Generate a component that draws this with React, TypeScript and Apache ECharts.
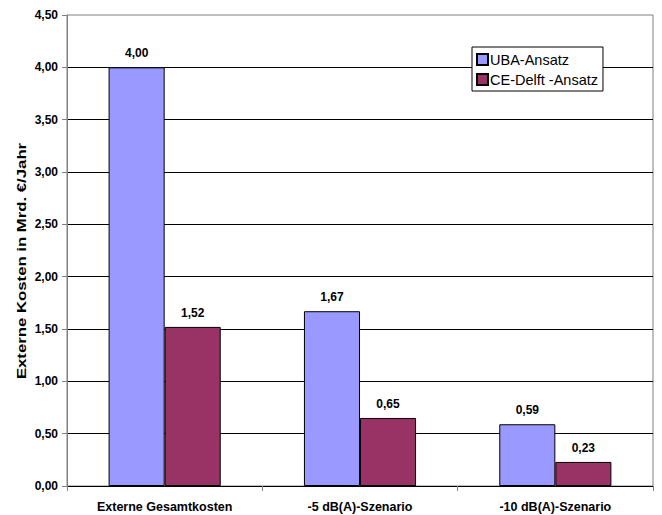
import React, { useEffect, useRef } from "react";
import * as echarts from "echarts";

const categories = ["Externe Gesamtkosten", "-5 dB(A)-Szenario", "-10 dB(A)-Szenario"];
const ubaValues = [4.0, 1.67, 0.59];
const ceValues = [1.52, 0.65, 0.23];
const seriesNames = ["UBA-Ansatz", "CE-Delft -Ansatz"];
const yAxisTitle = "Externe Kosten in Mrd. €/Jahr";

const fmt = (v: number) => v.toFixed(2).replace(".", ",");

export default function App() {
  const ref = useRef<HTMLDivElement>(null);
  useEffect(() => {
    document.body.style.margin = "0";
    const chart = echarts.init(ref.current!, null, { renderer: "svg" });
    const font = "Arial, 'Liberation Sans', sans-serif";
    const labelCfg = {
      show: true,
      position: "top" as const,
      distance: 8,
      fontFamily: font,
      fontSize: 12,
      fontWeight: "bold" as const,
      color: "#000",
      formatter: (p: any) => fmt(p.value),
    };
    chart.setOption({
      animation: false,
      backgroundColor: "#fff",
      grid: {
        left: 67,
        right: 9,
        top: 15,
        bottom: 29,
        show: true,
        borderColor: "#808080",
        borderWidth: 1,
        backgroundColor: "#fff",
      },
      graphic: [
        {
          type: "text",
          x: 22,
          y: 261,
          rotation: Math.PI / 2,
          scaleX: 1.34,
          style: {
            text: yAxisTitle,
            fontFamily: font,
            fontSize: 12.5,
            fontWeight: "bold",
            fill: "#000",
            textAlign: "center",
            textVerticalAlign: "middle",
          },
        },
      ],
      legend: {
        orient: "vertical",
        left: 472,
        top: 47,
        padding: [5, 5, 4, 4],
        itemWidth: 11,
        itemHeight: 11,
        itemGap: 5,
        borderColor: "#000",
        borderWidth: 1,
        backgroundColor: "#fff",
        icon: "rect",
        textStyle: { fontFamily: font, fontSize: 14.5, color: "#000", padding: [0, 0, 0, -3] },
        data: seriesNames,
      },
      xAxis: {
        type: "category",
        data: categories,
        axisLine: { lineStyle: { color: "#000", width: 1 } },
        axisTick: { show: true, length: 5, alignWithLabel: false, lineStyle: { color: "#808080" } },
        axisLabel: {
          margin: 14,
          fontFamily: font,
          fontSize: 12.5,
          fontWeight: "bold",
          color: "#000",
        },
      },
      yAxis: {
        type: "value",
        min: 0,
        max: 4.5,
        interval: 0.5,
        axisLine: { show: true, lineStyle: { color: "#808080" } },
        axisTick: { show: true, length: 5, lineStyle: { color: "#808080" } },
        axisLabel: {
          margin: 9,
          fontFamily: font,
          fontSize: 12,
          fontWeight: "bold",
          color: "#000",
          formatter: (v: number) => fmt(v),
        },
        splitLine: { show: true, showMaxLine: false, showMinLine: false, lineStyle: { color: "#000", width: 1 } },
      },
      series: [
        {
          name: seriesNames[0],
          type: "bar",
          data: ubaValues,
          barCategoryGap: "42.6%",
          barGap: "0%",
          itemStyle: { color: "#9999FF", borderColor: "#000", borderWidth: 1 },
          label: labelCfg,
        },
        {
          name: seriesNames[1],
          type: "bar",
          data: ceValues,
          itemStyle: { color: "#993366", borderColor: "#000", borderWidth: 1 },
          label: labelCfg,
        },
      ],
    });
    return () => chart.dispose();
  }, []);
  return <div ref={ref} style={{ width: 662, height: 515 }} />;
}
